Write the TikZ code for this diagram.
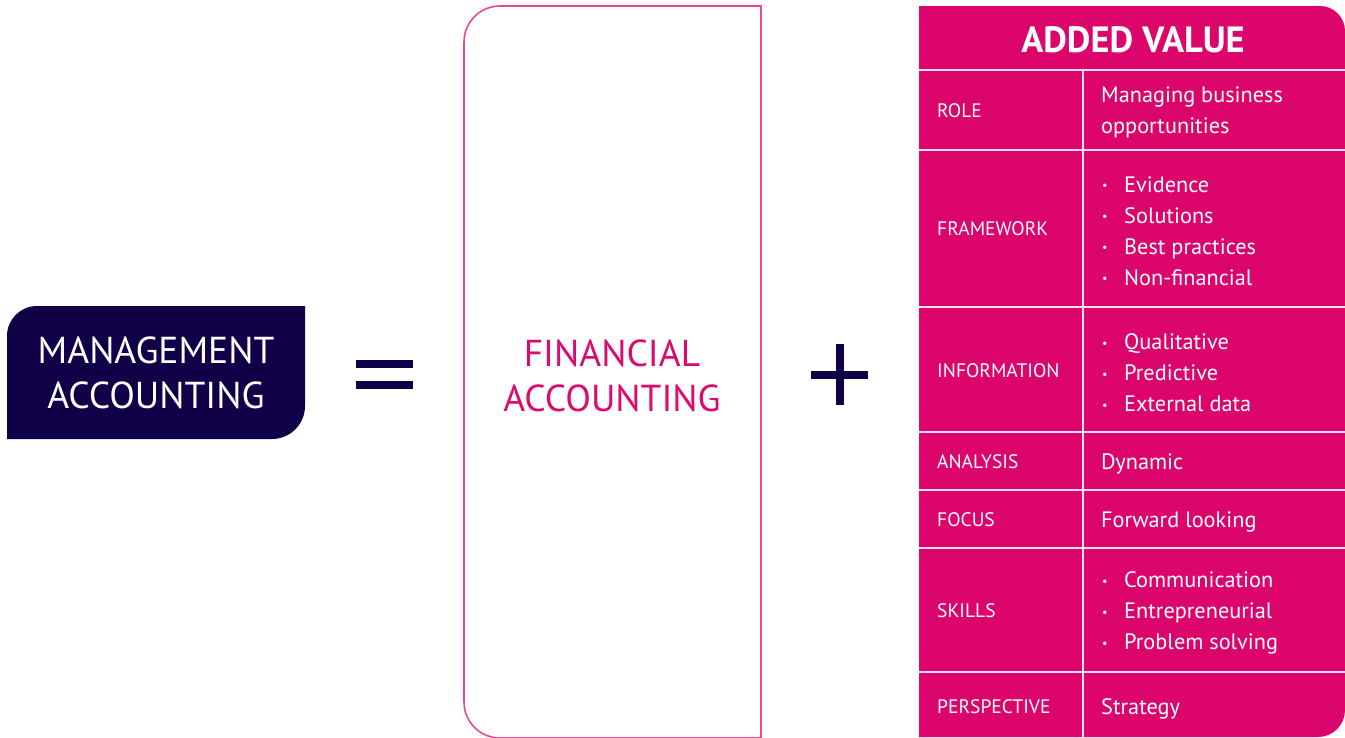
\documentclass[tikz,border=0pt]{standalone}
\usepackage{fontspec}
\setmainfont{PT Sans}
\definecolor{navy}{RGB}{16,0,72}
\definecolor{mag}{RGB}{220,5,108}
\definecolor{pinkline}{RGB}{236,72,146}
\definecolor{fintext}{RGB}{220,10,110}
\newcommand\bl{\makebox[23pt][l]{\hspace{1pt}\raisebox{2.5pt}{\fontsize{12}{12}\selectfont\textbullet}}}
\begin{document}
\begin{tikzpicture}[x=1pt,y=-1pt,
  bigtxt/.style={inner sep=0pt,align=center,font=\fontsize{37.5}{45}\selectfont},
  lab/.style={inner sep=0pt,anchor=west,text=white,font=\fontsize{19.5}{22}\selectfont},
  cell/.style={inner sep=0pt,anchor=west,align=left,text=white,font=\fontsize{22.3}{31}\selectfont},
  grid/.style={draw=white!88!mag,line width=1.1pt},
  sym/.style={fill=navy}]
\useasboundingbox (0,0) rectangle (1345,737);
\clip (0,0) rectangle (1345,737);
% management box
\fill[navy] (7,439) -- (7,336) arc[start angle=180,end angle=270,radius=30] -- (305,306) -- (305,406) arc[start angle=0,end angle=90,radius=33] -- cycle;
\node[bigtxt,text=white] (mgmt) at (156,373) {MANAGEMENT\\ACCOUNTING};
% equals
\fill[sym] (356,360) rectangle (413,368);
\fill[sym] (356,381) rectangle (413,389);
% financial box
\draw[pinkline,line width=1.6pt] (761,738) -- (761,6) -- (500,6) arc[start angle=270,end angle=180,radius=36] -- (464,702) arc[start angle=180,end angle=90,radius=36] -- (761,738);
\node[bigtxt,text=fintext] (fin) at (612,376) {FINANCIAL\\ACCOUNTING};
% plus
\fill[sym] (811,371) rectangle (868,379);
\fill[sym] (836,344) rectangle (844,405);
% table
\fill[mag] (919,6) -- (1320,6) arc[start angle=270,end angle=360,radius=25] -- (1345,710) arc[start angle=0,end angle=90,radius=27] -- (919,737) -- cycle;
\foreach \yy in {70,150,307,432,490,548,672} \draw[grid] (919,\yy) -- (1345,\yy);
\draw[grid] (1083,70) -- (1083,737);
\node[inner sep=0pt,text=white,font=\fontsize{36.5}{40}\selectfont\bfseries] (head) at (1133,40) {ADDED VALUE};
\node[lab] (l1) at (937,111) {ROLE};
\node[lab] (l2) at (937,229) {FRAMEWORK};
\node[lab] (l3) at (937,371) {INFORMATION};
\node[lab] (l4) at (937,462) {ANALYSIS};
\node[lab] (l5) at (937,520) {FOCUS};
\node[lab] (l6) at (937,611) {SKILLS};
\node[lab] (l7) at (937,707) {PERSPECTIVE};
\node[cell] (c1) at (1101,112) {Managing business\\opportunities};
\node[cell] (c2) at (1101,231) {\bl Evidence\\\bl Solutions\\\bl Best practices\\\bl Non-financial};
\node[cell] (c3) at (1101,373) {\bl Qualitative\\\bl Predictive\\\bl External data};
\node[cell] (c4) at (1101,464) {Dynamic};
\node[cell] (c5) at (1101,522) {Forward looking};
\node[cell] (c6) at (1101,613) {\bl Communication\\\bl Entrepreneurial\\\bl Problem solving};
\node[cell] (c7) at (1101,709) {Strategy};
\end{tikzpicture}
\end{document}
